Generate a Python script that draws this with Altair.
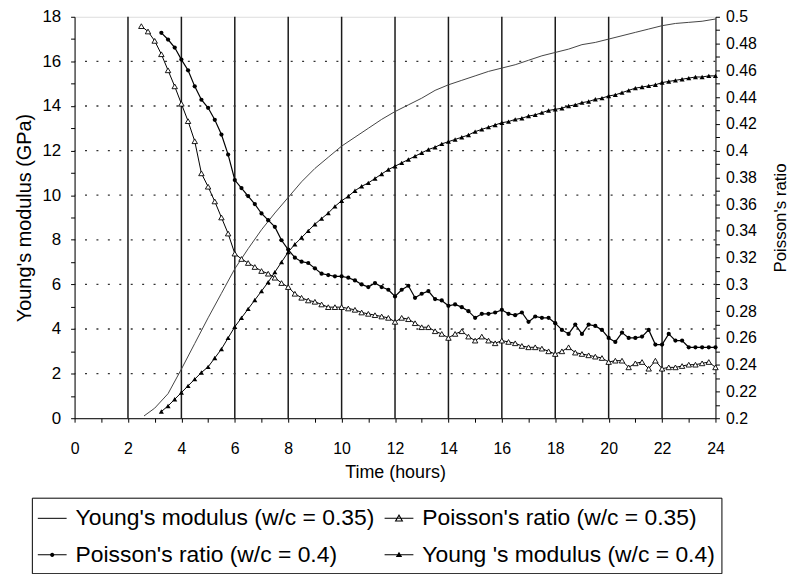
import altair as alt
import pandas as pd

FONT = "Liberation Sans"
STEP = 0.25

# ---- data ----
# Young's modulus (w/c = 0.35), GPa  (thin line, no markers)
ym035_hours = [2.6, 3.0, 3.5, 4.0, 4.5, 5.0, 5.5, 6.0, 6.5, 7.0, 7.5, 8.0, 8.5, 9.0,
               9.5, 10.0, 10.5, 11.0, 11.5, 12.0, 12.5, 13.0, 13.5, 14.0, 14.5, 15.0,
               15.5, 16.0, 16.5, 17.0, 17.5, 18.0, 18.5, 19.0, 19.5, 20.0, 20.5, 21.0,
               21.5, 22.0, 22.5, 23.0, 23.5, 24.0]
ym035_gpa = [0.1, 0.45, 1.1, 2.2, 3.35, 4.5, 5.6, 6.7, 7.6, 8.45, 9.2, 9.9, 10.6, 11.2,
             11.7, 12.2, 12.6, 13.0, 13.4, 13.75, 14.05, 14.35, 14.7, 14.95, 15.15, 15.35,
             15.55, 15.7, 15.85, 16.05, 16.25, 16.4, 16.55, 16.75, 16.85, 17.0, 17.15, 17.3,
             17.45, 17.6, 17.7, 17.75, 17.8, 17.9]

# Young's modulus (w/c = 0.4), GPa, every 0.25 h from 3.25 h (filled triangles)
ym040_start = 3.25
ym040_gpa = [0.3, 0.55, 0.85, 1.15, 1.45, 1.75, 2.05, 2.3, 2.7, 3.1,
             3.6, 4.1, 4.5, 4.9, 5.3, 5.7, 6.1, 6.55, 7.0, 7.45,
             7.8, 8.1, 8.4, 8.7, 8.95, 9.2, 9.5, 9.75, 9.95, 10.2,
             10.4, 10.55, 10.75, 10.95, 11.15, 11.3, 11.45, 11.6, 11.75, 11.9,
             12.05, 12.15, 12.3, 12.4, 12.5, 12.6, 12.7, 12.85, 12.95, 13.05,
             13.15, 13.25, 13.3, 13.4, 13.45, 13.55, 13.6, 13.7, 13.8, 13.85,
             13.9, 14.0, 14.05, 14.15, 14.2, 14.3, 14.35, 14.45, 14.5, 14.6,
             14.7, 14.8, 14.85, 14.9, 14.95, 15.05, 15.1, 15.15, 15.2, 15.25,
             15.3, 15.3, 15.35, 15.35]

# Poisson's ratio (w/c = 0.35), every 0.25 h from 2.5 h (open triangles)
pr035_start = 2.5
pr035 = [0.493, 0.489, 0.482, 0.472, 0.460, 0.448, 0.435, 0.422, 0.407, 0.383,
         0.373, 0.362, 0.350, 0.338, 0.323, 0.319, 0.316, 0.313, 0.310, 0.308,
         0.305, 0.301, 0.298, 0.293, 0.290, 0.288, 0.287, 0.285, 0.283, 0.283,
         0.283, 0.282, 0.281, 0.279, 0.278, 0.277, 0.276, 0.275, 0.272, 0.275,
         0.274, 0.271, 0.268, 0.268, 0.265, 0.263, 0.260, 0.263, 0.265, 0.261,
         0.258, 0.261, 0.258, 0.256, 0.258, 0.257, 0.256, 0.254, 0.253, 0.253,
         0.252, 0.250, 0.248, 0.250, 0.253, 0.249, 0.248, 0.247, 0.246, 0.245,
         0.242, 0.243, 0.243, 0.238, 0.241, 0.242, 0.237, 0.243, 0.237, 0.238,
         0.238, 0.239, 0.240, 0.240, 0.241, 0.242, 0.238]

# Poisson's ratio (w/c = 0.4), every 0.25 h from 3.25 h (filled circles)
pr040_start = 3.25
pr040 = [0.488, 0.483, 0.477, 0.468, 0.460, 0.448, 0.438, 0.432, 0.423, 0.412,
         0.397, 0.378, 0.372, 0.366, 0.360, 0.353, 0.348, 0.343, 0.333, 0.326,
         0.320, 0.317, 0.316, 0.312, 0.308, 0.307, 0.306, 0.306, 0.305, 0.303,
         0.300, 0.298, 0.301, 0.298, 0.296, 0.291, 0.296, 0.299, 0.290, 0.293,
         0.295, 0.289, 0.288, 0.284, 0.285, 0.283, 0.280, 0.275, 0.278, 0.278,
         0.279, 0.281, 0.278, 0.277, 0.279, 0.272, 0.276, 0.275, 0.275, 0.271,
         0.266, 0.263, 0.270, 0.263, 0.270, 0.269, 0.266, 0.260, 0.257, 0.264,
         0.260, 0.260, 0.261, 0.266, 0.255, 0.255, 0.263, 0.258, 0.258, 0.253,
         0.253, 0.253, 0.253, 0.253]

# legend entries, in the order the legend grid fills them (column by column)
series_names = ["Young's modulus (w/c = 0.35)", "Poisson's ratio (w/c = 0.4)",
                "Poisson's ratio (w/c = 0.35)", "Young 's modulus (w/c = 0.4)"]

x_ticks = list(range(0, 25))
yl_ticks = list(range(0, 19))
yr_ticks = [round(0.2 + 0.01 * i, 2) for i in range(31)]
grid_hours = [2, 4, 6, 8, 10, 12, 14, 16, 18, 20, 22]
grid_gpa = [2, 4, 6, 8, 10, 12, 14, 16]


def sampled(start, values):
    return pd.DataFrame({"hour": [round(start + STEP * i, 2) for i in range(len(values))],
                         "value": values})


df_ym035 = pd.DataFrame({"hour": ym035_hours, "value": ym035_gpa})
df_ym040 = sampled(ym040_start, ym040_gpa)
df_pr035 = sampled(pr035_start, pr035)
df_pr040 = sampled(pr040_start, pr040)
df_gh = pd.DataFrame({"hour": grid_hours})
df_gg = pd.DataFrame({"value": grid_gpa})
df_leg = pd.DataFrame({"series": series_names})

# ---- axes ----
common_axis = dict(labelFont=FONT, titleFont=FONT, labelColor="black", titleColor="black",
                   domainColor="black", tickColor="black", tickSize=4, grid=False,
                   titleFontWeight="normal", labelOverlap=False, labelFlush=False)

x_axis = alt.Axis(values=x_ticks, labelExpr="datum.value % 2 == 0 ? datum.label : ''",
                  title="Time (hours)", labelFontSize=16, titleFontSize=18,
                  labelPadding=19, titlePadding=7, **common_axis)
yl_axis = alt.Axis(values=yl_ticks, labelExpr="datum.value % 2 == 0 ? datum.label : ''",
                   title="Young's modulus (GPa)", labelFontSize=17, titleFontSize=20,
                   labelPadding=10, titlePadding=7, **common_axis)
yr_axis = alt.Axis(values=yr_ticks, orient="right",
                   labelExpr="round(datum.value * 100) % 2 == 0 ? format(datum.value, '.2~f') : ''",
                   title="Poisson's ratio", labelFontSize=16, titleFontSize=17,
                   titleAngle=270, labelPadding=6, titlePadding=33, **common_axis)

X = alt.X("hour:Q", scale=alt.Scale(domain=[0, 24], nice=False, zero=False), axis=x_axis)
YL = alt.Y("value:Q", scale=alt.Scale(domain=[0, 18], nice=False), axis=yl_axis)
YR = alt.Y("value:Q", scale=alt.Scale(domain=[0.2, 0.5], nice=False, zero=False), axis=yr_axis)

# ---- left (Young's modulus) group ----
vgrid = alt.Chart(df_gh).mark_rule(color="#1a1a1a", strokeWidth=1.5).encode(x=X)
hgrid = alt.Chart(df_gg).mark_rule(color="#333333", strokeWidth=1.3,
                                   strokeDash=[2, 9.5]).encode(y=YL)
ym035_line = alt.Chart(df_ym035).mark_line(color="#444444", strokeWidth=1).encode(x=X, y=YL)
ym040_line = alt.Chart(df_ym040).mark_line(color="black", strokeWidth=1).encode(x=X, y=YL)
ym040_pts = alt.Chart(df_ym040).mark_point(shape="triangle-up", filled=True, color="black",
                                           size=26, opacity=1).encode(x=X, y=YL)

# legend symbols drawn as filled shapes only: a thin bar for the line, plus the marker
BAR = "M-1,-0.035H1V0.035H-1Z"
legend_paths = [
    BAR,
    BAR + "M0.15,0A0.15,0.15,0,1,1,-0.15,0A0.15,0.15,0,1,1,0.15,0Z",
    BAR + "M0,-0.3L0.3,0.22L-0.3,0.22ZM0,-0.14L-0.17,0.15L0.17,0.15Z",
    BAR + "M0,-0.22L0.22,0.15L-0.22,0.15Z",
]
legend_layer = alt.Chart(df_leg).mark_point(fill="black", stroke="black", strokeWidth=1,
                                            opacity=1).encode(
    x=alt.value(-300), y=alt.value(-300),
    shape=alt.Shape("series:N", scale=alt.Scale(domain=series_names, range=legend_paths),
                    legend=alt.Legend(title=None, orient="none", legendX=-43, legendY=484,
                                      columns=2, strokeColor="black", padding=6,
                                      labelFont=FONT, labelFontSize=23, labelColor="black",
                                      labelLimit=500, labelOffset=9, symbolSize=841,
                                      symbolFillColor="black", symbolStrokeColor="black",
                                      symbolStrokeWidth=0, symbolOpacity=1,
                                      columnPadding=10, rowPadding=10)),
)

left = alt.layer(vgrid, hgrid, ym035_line, ym040_line, ym040_pts, legend_layer)

# ---- right (Poisson's ratio) group ----
pr035_line = alt.Chart(df_pr035).mark_line(color="black", strokeWidth=1).encode(x=X, y=YR)
pr035_pts = alt.Chart(df_pr035).mark_point(shape="triangle-up", filled=True, fill="white",
                                           stroke="black", strokeWidth=0.9, size=30,
                                           opacity=1).encode(x=X, y=YR)
pr040_line = alt.Chart(df_pr040).mark_line(color="black", strokeWidth=1.2).encode(x=X, y=YR)
pr040_pts = alt.Chart(df_pr040).mark_circle(color="black", size=18, opacity=1).encode(x=X, y=YR)

right = alt.layer(pr035_line, pr035_pts, pr040_line, pr040_pts)

chart = (
    alt.layer(left, right)
    .resolve_scale(y="independent")
    .properties(width=645, height=404,
                padding={"left": 67, "top": 7, "right": 74, "bottom": 162},
                autosize=alt.AutoSizeParams(type="none"), background="white")
    .configure_view(stroke="black", strokeWidth=1.2)
    .configure(font=FONT)
)

chart.save("out.html", embed_options={"renderer": "svg", "actions": False})
